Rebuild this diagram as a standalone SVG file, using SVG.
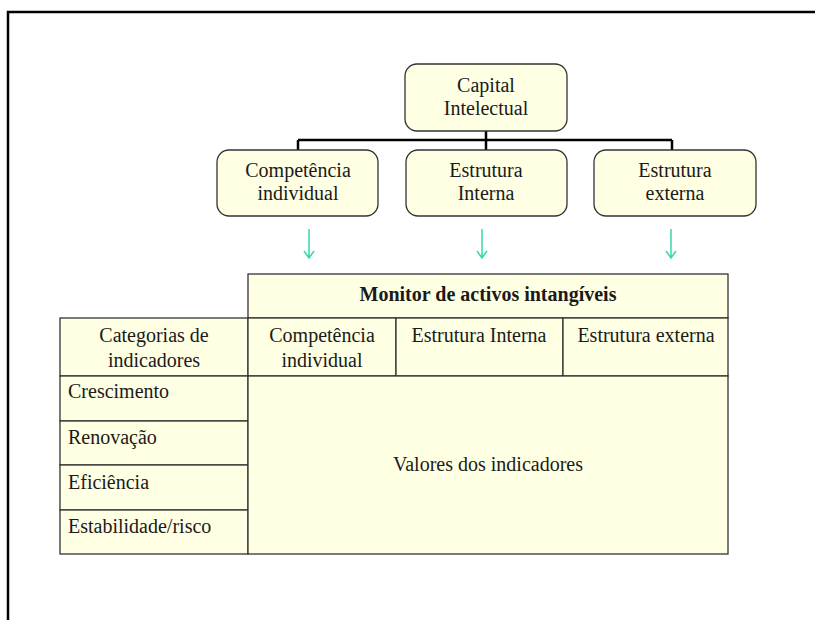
<svg xmlns="http://www.w3.org/2000/svg" width="815" height="620" viewBox="0 0 815 620">
  <defs>
    <style>
      .box { fill: #ffffe3; stroke: #333; stroke-width: 1.3; }
      .cell { fill: #ffffe3; stroke: #333; stroke-width: 1.3; }
      .c { text-anchor: middle; }
      .b { font-weight: bold; }
      .link { fill: none; stroke: #000; stroke-width: 2.5; }
      .arrow { fill: none; stroke: #36d8aa; stroke-width: 1.5; }
    </style>
  </defs>
  <rect width="815" height="620" fill="#fff"/>
  <!-- outer frame: top and left edges only -->
  <path d="M8 620 V12 H815" fill="none" stroke="#000" stroke-width="2.5"/>

  <g id="connectors">
    <path class="link" d="M486 131 V140 M298 140 H672 M298 140 V150 M486 140 V150 M672 140 V150"/>
    <path class="arrow" d="M309 229 V258 M304 251 L309 258 L314 251"/>
    <path class="arrow" d="M482 229 V258 M477 251 L482 258 L487 251"/>
    <path class="arrow" d="M671 229 V258 M666 251 L671 258 L676 251"/>
  </g>

  <g font-family="'Liberation Serif', 'Times New Roman', serif" font-size="20" fill="#1a1a1a">
    <g id="capital">
      <rect class="box" x="405" y="64" width="162" height="67" rx="12"/>
      <text class="c" x="486" y="92">Capital</text>
      <text class="c" x="486" y="115">Intelectual</text>
    </g>
    <g id="competencia">
      <rect class="box" x="217" y="150" width="161" height="66" rx="12"/>
      <text class="c" x="298" y="177">Competência</text>
      <text class="c" x="298" y="200">individual</text>
    </g>
    <g id="estrutura-interna">
      <rect class="box" x="406" y="150" width="161" height="66" rx="12"/>
      <text class="c" x="486" y="177">Estrutura</text>
      <text class="c" x="486" y="200">Interna</text>
    </g>
    <g id="estrutura-externa">
      <rect class="box" x="594" y="150" width="162" height="66" rx="12"/>
      <text class="c" x="675" y="177">Estrutura</text>
      <text class="c" x="675" y="200">externa</text>
    </g>

    <g id="monitor">
      <rect class="cell" x="248" y="274" width="480" height="44"/>
      <text class="c b" x="488" y="301">Monitor de activos intangíveis</text>
      <rect class="cell" x="60" y="318" width="188" height="58"/>
      <text class="c" x="154" y="342">Categorias de</text>
      <text class="c" x="154" y="367">indicadores</text>
      <rect class="cell" x="248" y="318" width="148" height="58"/>
      <text class="c" x="322" y="342">Competência</text>
      <text class="c" x="322" y="367">individual</text>
      <rect class="cell" x="396" y="318" width="167" height="58"/>
      <text class="c" x="479" y="342">Estrutura Interna</text>
      <rect class="cell" x="563" y="318" width="165" height="58"/>
      <text class="c" x="646" y="342">Estrutura externa</text>
      <rect class="cell" x="60" y="376" width="188" height="45"/>
      <text x="68" y="398">Crescimento</text>
      <rect class="cell" x="60" y="421" width="188" height="44"/>
      <text x="68" y="444">Renovação</text>
      <rect class="cell" x="60" y="465" width="188" height="45"/>
      <text x="68" y="489">Eficiência</text>
      <rect class="cell" x="60" y="510" width="188" height="44"/>
      <text x="68" y="533">Estabilidade/risco</text>
      <rect class="cell" x="248" y="376" width="480" height="178"/>
      <text class="c" x="488" y="471">Valores dos indicadores</text>
    </g>
  </g>
</svg>
